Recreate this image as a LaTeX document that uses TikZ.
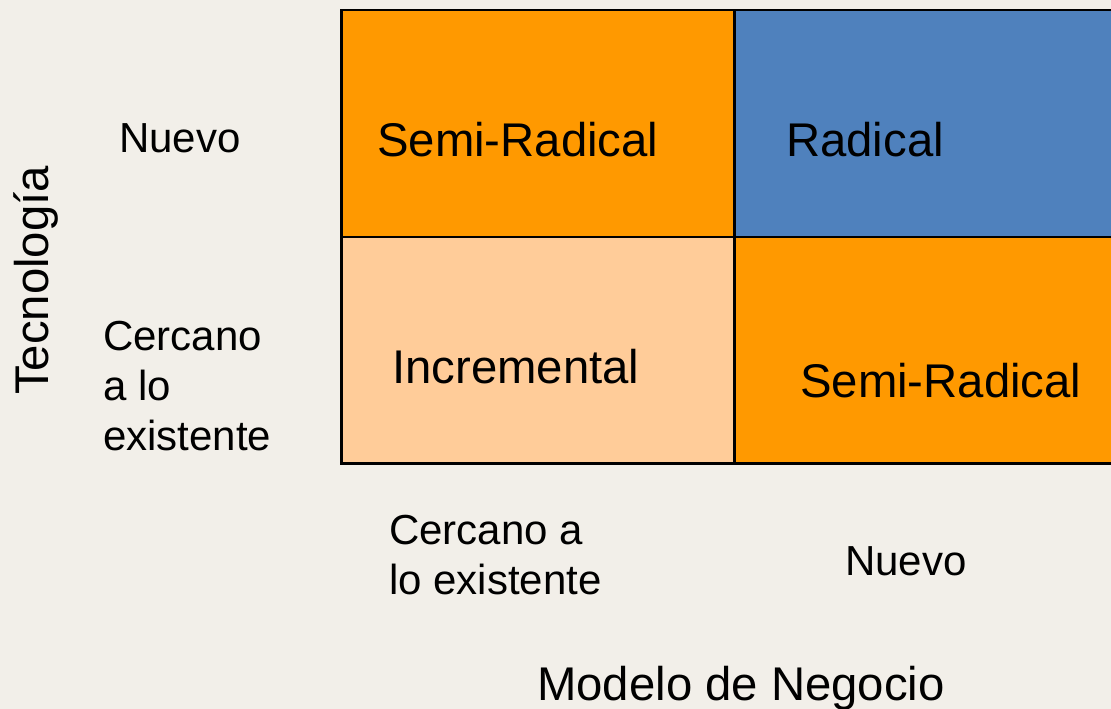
\documentclass[tikz,border=0pt]{standalone}
\usepackage{fontspec}
\setmainfont{Liberation Sans}
\definecolor{bgc}{HTML}{F2EFE9}
\definecolor{orng}{HTML}{FF9900}
\definecolor{lorng}{HTML}{FFCC99}
\definecolor{blu}{HTML}{4F81BD}
\begin{document}
\begin{tikzpicture}[x=1pt,y=-1pt,
  cell/.style={draw=black,line width=2.5pt,anchor=north west,inner sep=0pt,minimum width=#1,minimum height=226.5pt},
  big/.style={anchor=base west,inner sep=0pt,font=\fontsize{47.3}{50}\selectfont},
  small/.style={anchor=base west,inner sep=0pt,align=left,font=\fontsize{42}{50}\selectfont}]
\useasboundingbox[fill=bgc] (0,0) rectangle (1111,709);
\node[cell=393pt,fill=orng] (c11) at (340,9) {};
\node[cell=385pt,fill=blu] (c12) at (733,9) {};
\node[cell=393pt,fill=lorng] (c21) at (340,235.5) {};
\node[cell=385pt,fill=orng] (c22) at (733,235.5) {};
\node[big] (t11) at (377,156) {Semi-Radical};
\node[big] (t12) at (786,156) {Radical};
\node[big] (t21) at (392,383) {Incremental};
\node[big] (t22) at (800,397) {Semi-Radical};
\node[small] (ln) at (119,152) {Nuevo};
\node[small] (lc) at (103,450) {Cercano\\a lo\\existente};
\node[small] (bc) at (389,594) {Cercano a\\lo existente};
\node[small] (bn) at (845,575) {Nuevo};
\node[big] (mx) at (537,700) {Modelo de Negocio};
\node[big,rotate=90] (my) at (48,395) {Tecnología};
\end{tikzpicture}
\end{document}
